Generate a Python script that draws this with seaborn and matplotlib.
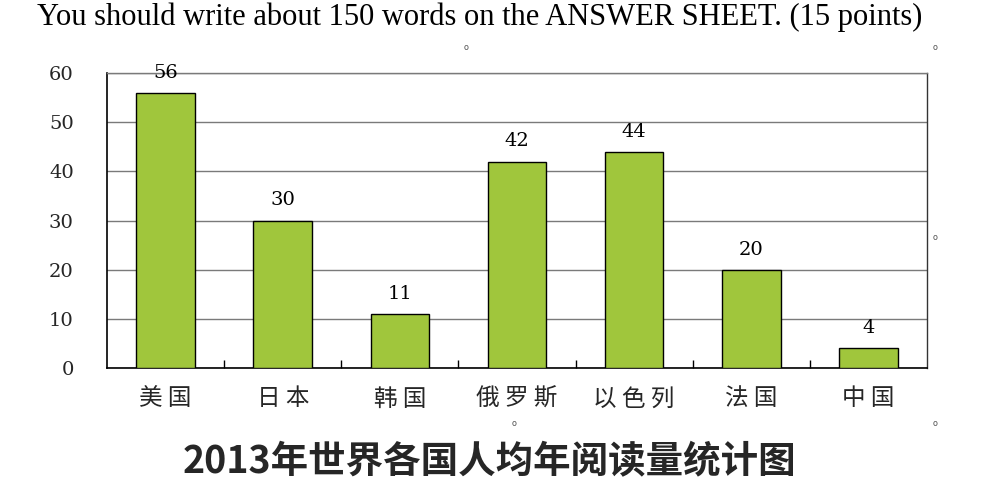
import matplotlib
matplotlib.use("Agg")
import matplotlib.pyplot as plt
import seaborn as sns
import pandas as pd

categories = ["美国", "日本", "韩国", "俄罗斯", "以色列", "法国", "中国"]
values = [56, 30, 11, 42, 44, 20, 4]
yticks = [0, 10, 20, 30, 40, 50, 60]
title = "2013年世界各国人均年阅读量统计图"
header = "You should write about 150 words on the ANSWER SHEET. (15 points)"

sns.set_theme(style="white")
plt.rcParams["font.family"] = ["Noto Sans CJK SC", "DejaVu Sans"]

df = pd.DataFrame({"country": categories, "value": values})

fig = plt.figure(figsize=(10.06, 4.82), dpi=100)
ax = fig.add_axes([0.1064, 0.2365, 0.8151, 0.612])

sns.barplot(data=df, x="country", y="value", color="#A0C63C", saturation=1,
            edgecolor="black", linewidth=1.0, width=0.5, ax=ax, zorder=3)

ax.set_xlim(-0.5, len(categories) - 0.5)
ax.set_ylim(0, 60)
ax.set_yticks(yticks)
ax.set_yticklabels([str(t) for t in yticks], family="DejaVu Serif", fontsize=14)
ax.yaxis.grid(True, color="#7a7a7a", linewidth=1.0, zorder=0)
ax.set_axisbelow(True)
ax.set_xlabel("")
ax.set_ylabel("")

ax.set_xticks(range(len(categories)))
ax.set_xticklabels([" ".join(c) for c in categories], fontsize=17)
ax.set_xticks([i + 0.5 for i in range(len(categories) - 1)], minor=True)
ax.tick_params(axis="x", which="major", length=0, pad=14)
ax.tick_params(axis="x", which="minor", direction="in", length=6, width=1, color="black", bottom=True)
ax.tick_params(axis="y", length=0, pad=24)

for s in ["left", "bottom"]:
    ax.spines[s].set_color("black")
    ax.spines[s].set_linewidth(1.2)
ax.spines["top"].set_color("#7a7a7a")
ax.spines["top"].set_linewidth(1.0)
ax.spines["right"].set_color("#333333")
ax.spines["right"].set_linewidth(1.0)

for i, v in enumerate(values):
    ax.annotate(str(v), (i, v), xytext=(0, 8), textcoords="offset points",
                ha="center", va="bottom", family="DejaVu Serif", fontsize=14,
                color="black", zorder=5, annotation_clip=False)

fig.text(0.487, 0.042, title, ha="center", va="center", fontsize=27, fontweight="bold")
fig.text(0.037, 0.965, header, ha="left", va="center", fontsize=22,
         family="Liberation Serif", color="black")

for (x, y) in [(466, 48), (935, 48), (935, 237), (514, 423), (935, 423)]:
    fig.text(x / 1006, 1 - y / 482, "o", ha="center", va="center", fontsize=6, color="#555555")

fig.savefig("out.png", dpi=100)
